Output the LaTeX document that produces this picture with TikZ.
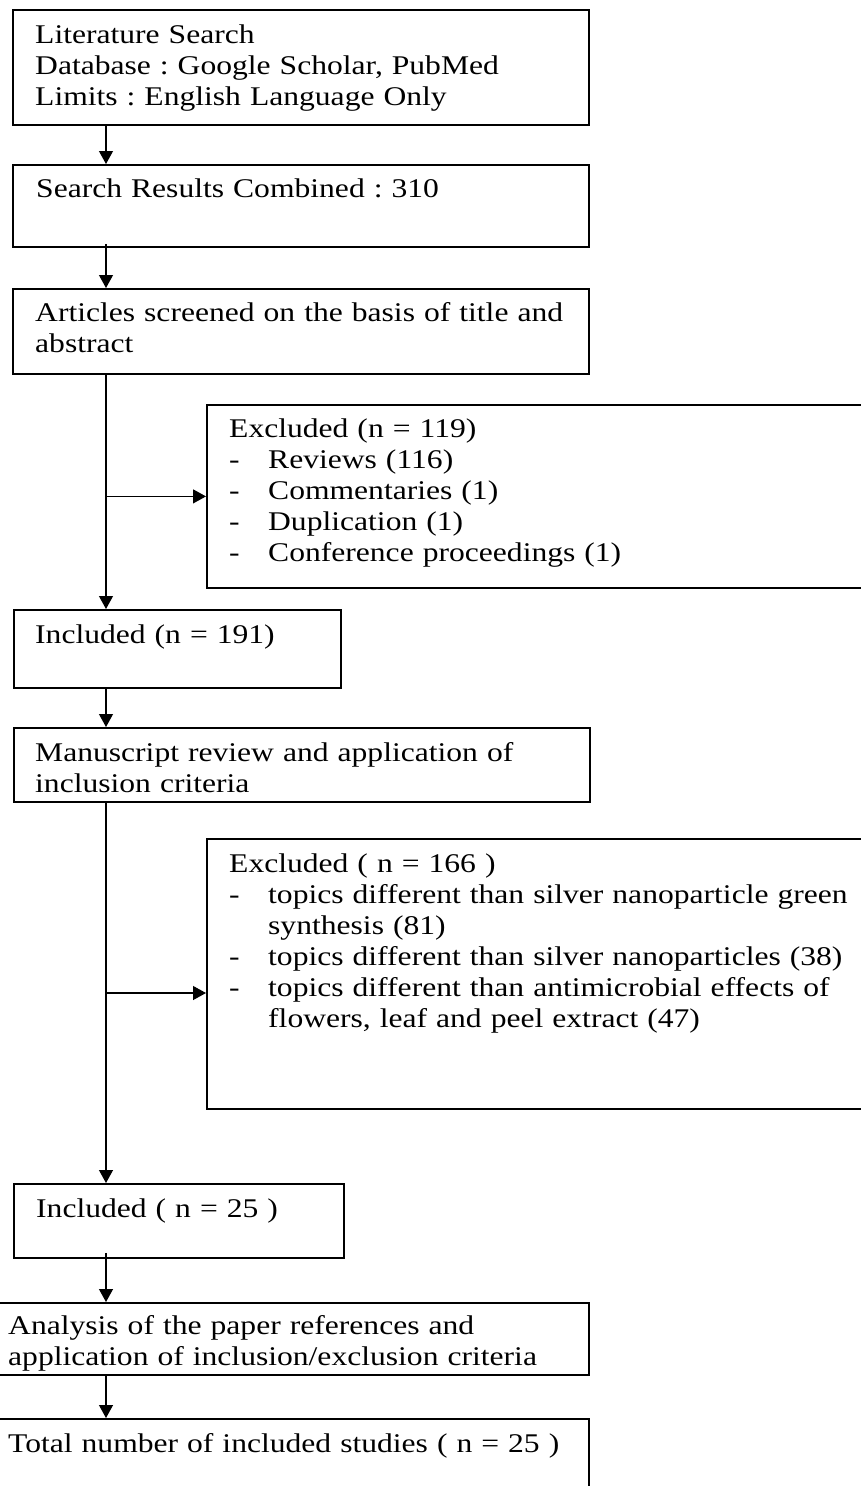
\documentclass[tikz,border=0pt]{standalone}
\usepackage{fontspec}
\setmainfont{Liberation Serif}[FakeStretch=1.17]
\usetikzlibrary{arrows.meta}
\frenchspacing
\newcommand{\mydashitem}{\makebox[39pt][l]{-}}
\newcommand{\mycontind}{\hspace*{39pt}}
\begin{document}
\begin{tikzpicture}[x=1pt,y=-1pt,
  box/.style={draw=black,line width=1.8pt,rectangle,inner sep=0pt,anchor=north west},
  txt/.style={anchor=base west,inner sep=0pt,text width=640pt,align=left,
    font=\fontsize{27}{31}\selectfont\frenchspacing},
  arr/.style={line width=1.2pt,-{Triangle[length=13pt,width=14pt]}}]
\useasboundingbox (0,0) rectangle (860,1486);
% boxes
\node[box,minimum width=576pt,minimum height=115pt] (b1) at (12,9) {};
\node[box,minimum width=576pt,minimum height=82pt] (b2) at (12,164) {};
\node[box,minimum width=576pt,minimum height=85pt] (b3) at (12,288) {};
\node[box,minimum width=659pt,minimum height=183pt] (ex1) at (206,404) {};
\node[box,minimum width=327pt,minimum height=78pt] (inc1) at (13,609) {};
\node[box,minimum width=576pt,minimum height=74pt] (b4) at (13,727) {};
\node[box,minimum width=659pt,minimum height=270pt] (ex2) at (206,838) {};
\node[box,minimum width=330pt,minimum height=74pt] (inc2) at (13,1183) {};
\node[box,minimum width=591pt,minimum height=72pt] (b5) at (-3,1302) {};
\node[box,minimum width=591pt,minimum height=90pt] (b6) at (-3,1418) {};
% texts
\node[txt] (t1) at (35,43) {Literature Search\\Database : Google Scholar, PubMed\\Limits : English Language Only};
\node[txt] (t2) at (36,197) {Search Results Combined : 310};
\node[txt] (t3) at (35,321) {Articles screened on the basis of title and\\abstract};
\node[txt] (tex1) at (229,437) {Excluded (n = 119)\\\mydashitem Reviews (116)\\\mydashitem Commentaries (1)\\\mydashitem Duplication (1)\\\mydashitem Conference proceedings (1)};
\node[txt] (tinc1) at (35,643) {Included (n = 191)};
\node[txt] (t4) at (35,761) {Manuscript review and application of\\inclusion criteria};
\node[txt] (tex2) at (229,872) {Excluded ( n = 166 )\\\mydashitem topics different than silver nanoparticle green\\\mycontind synthesis (81)\\\mydashitem topics different than silver nanoparticles (38)\\\mydashitem topics different than antimicrobial effects of\\\mycontind flowers, leaf and peel extract (47)};
\node[txt] (tinc2) at (36,1217) {Included ( n = 25 )};
\node[txt] (t5) at (8,1334) {Analysis of the paper references and\\application of inclusion/exclusion criteria};
\node[txt] (t6) at (8,1452) {Total number of included studies ( n = 25 )};
% connectors
\coordinate (spine) at (106,0);
\coordinate (br2) at (106,993);
\draw[arr] (b1.south -| spine) -- (b2.north -| spine);
\draw[arr] ([yshift=4pt]b2.south -| spine) -- (b3.north -| spine);
\draw[arr] (b3.south -| spine) -- (inc1.north -| spine);
\draw[arr] (ex1.west -| spine) -- (ex1.west);
\draw[arr] (inc1.south -| spine) -- (b4.north -| spine);
\draw[arr] (b4.south -| spine) -- (inc2.north -| spine);
\draw[arr] (br2) -- (br2 -| ex2.west);
\draw[arr] ([yshift=6pt]inc2.south -| spine) -- (b5.north -| spine);
\draw[arr] (b5.south -| spine) -- (b6.north -| spine);
\end{tikzpicture}
\end{document}
